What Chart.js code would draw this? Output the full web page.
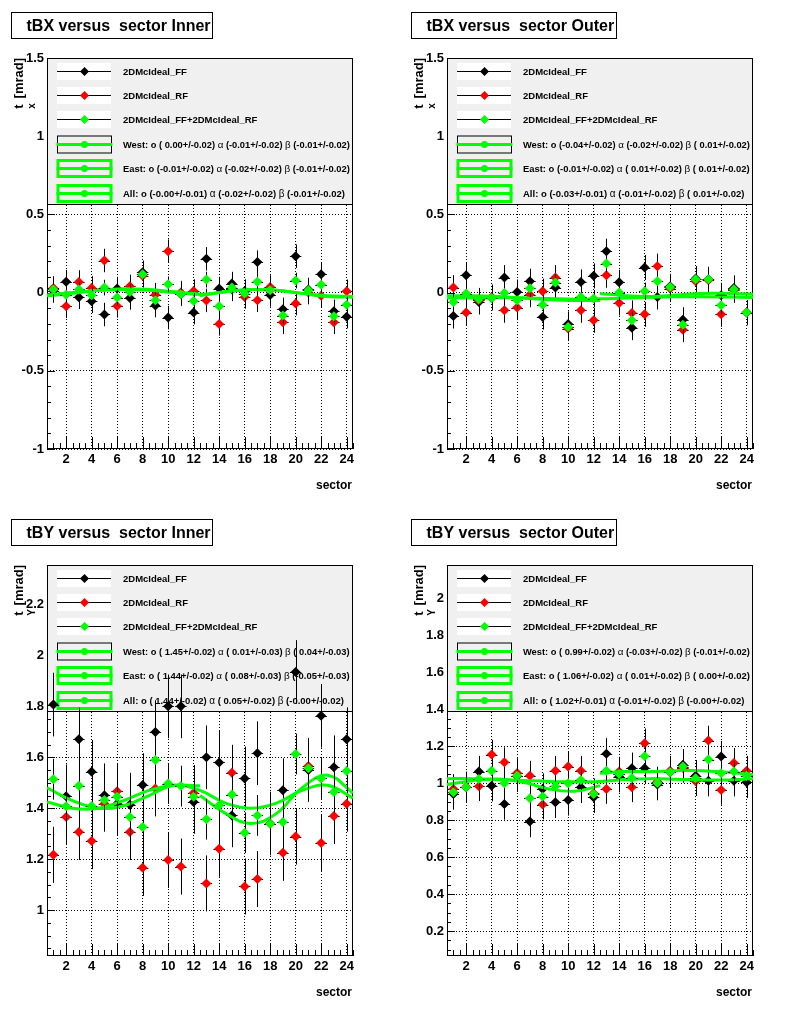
<!DOCTYPE html>
<html>
<head>
<meta charset="utf-8">
<script src="https://cdn.jsdelivr.net/npm/chart.js@4.4.0/dist/chart.umd.min.js"></script>
<style>
html, body { margin: 0; padding: 0; background: #fff; }
#wrap { position: relative; width: 800px; height: 1014px; }
.pad { position: absolute; width: 400px; height: 507px; }
</style>
</head>
<body>
<div id="wrap">
  <div class="pad" style="left:0;top:0"><canvas id="c1" width="400" height="507"></canvas></div>
  <div class="pad" style="left:400px;top:0"><canvas id="c2" width="400" height="507"></canvas></div>
  <div class="pad" style="left:0;top:507px"><canvas id="c3" width="400" height="507"></canvas></div>
  <div class="pad" style="left:400px;top:507px"><canvas id="c4" width="400" height="507"></canvas></div>
</div>
<script>
// sector axis
const sectors = [1, 2, 3, 4, 5, 6, 7, 8, 9, 10, 11, 12, 13, 14, 15, 16, 17, 18, 19, 20, 21, 22, 23, 24];
const xMajor = [2, 4, 6, 8, 10, 12, 14, 16, 18, 20, 22, 24];
const fitXWest = [0.5, 2.5, 4.5, 6.5, 8.5, 10.5, 12.5];
const fitXEast = [12.5, 14.5, 16.5, 18.5, 20.5, 22.5, 24.5];
const fitXAll = [0.5, 2.5, 4.5, 6.5, 8.5, 10.5, 12.5, 14.5, 16.5, 18.5, 20.5, 22.5, 24.5];
const seriesNames = ['2DMcIdeal_FF', '2DMcIdeal_RF', '2DMcIdeal_FF+2DMcIdeal_RF'];
const seriesColors = ['#000000', '#ff0000', '#00ff00'];

// --- tBX Inner ---
const p1FF  = [0.01, 0.07, -0.03, -0.056, -0.14, 0.026, -0.034, 0.13, -0.083, -0.16, -0.01, -0.128, 0.216, 0.026, 0.058, 0.01, 0.195, -0.015, -0.107, 0.233, 0.02, 0.118, -0.12, -0.154];
const p1RF  = [0.03, -0.088, 0.068, 0.03, 0.205, -0.085, 0.04, 0.107, -0.013, 0.265, 0.0, 0.01, -0.05, -0.2, 0.02, -0.028, -0.049, 0.036, -0.19, -0.07, 0.0, -0.02, -0.19, 0.009];
const p1Sum = [0.02, -0.013, 0.02, -0.017, 0.032, -0.032, 0.004, 0.118, -0.049, 0.053, -0.01, -0.053, 0.083, -0.088, 0.032, -0.006, 0.07, 0.015, -0.147, 0.077, 0.015, 0.05, -0.152, -0.077];
const p1Err = [0.075, 0.075, 0.05];
const p1West = [-0.02, -0.005, 0.015, 0.025, 0.02, 0.005, -0.01];
const p1East = [-0.02, 0.005, 0.02, 0.015, -0.005, -0.025, -0.03];
const p1All  = [-0.015, 0.0, 0.015, 0.02, 0.015, 0.0, -0.01, 0.005, 0.02, 0.015, -0.005, -0.02, -0.025];
const p1FitText = [
  'West: o ( 0.00+/-0.02) α (-0.01+/-0.02) β (-0.01+/-0.02)',
  'East: o (-0.01+/-0.02) α (-0.02+/-0.02) β (-0.01+/-0.02)',
  'All: o (-0.00+/-0.01) α (-0.02+/-0.02) β (-0.01+/-0.02)'
];

// --- tBX Outer ---
const p2FF  = [-0.15, 0.111, -0.06, -0.034, 0.096, 0.004, 0.073, -0.156, 0.032, -0.2, 0.068, 0.107, 0.265, 0.066, -0.224, 0.16, -0.028, 0.04, -0.173, 0.09, 0.085, -0.017, 0.03, -0.128];
const p2RF  = [0.032, -0.128, -0.05, -0.028, -0.113, -0.096, -0.013, 0.009, 0.096, -0.23, -0.113, -0.177, 0.111, -0.066, -0.13, -0.139, 0.169, 0.026, -0.237, 0.073, 0.079, -0.139, 0.015, -0.128];
const p2Sum = [-0.06, -0.006, -0.043, -0.034, -0.002, -0.049, 0.028, -0.077, 0.064, -0.22, -0.028, -0.038, 0.186, 0.0, -0.177, 0.009, 0.073, 0.036, -0.205, 0.085, 0.085, -0.081, 0.021, -0.128];
const p2Err = [0.08, 0.08, 0.055];
const p2West = [-0.02, -0.02, -0.025, -0.035, -0.045, -0.05, -0.05];
const p2East = [-0.005, -0.02, -0.025, -0.015, -0.005, -0.005, -0.01];
const p2All  = [-0.035, -0.035, -0.033, -0.034, -0.038, -0.042, -0.04, -0.035, -0.03, -0.027, -0.026, -0.028, -0.032];
const p2FitText = [
  'West: o (-0.04+/-0.02) α (-0.02+/-0.02) β ( 0.01+/-0.02)',
  'East: o (-0.01+/-0.02) α ( 0.01+/-0.02) β ( 0.01+/-0.02)',
  'All: o (-0.03+/-0.01) α (-0.01+/-0.02) β ( 0.01+/-0.02)'
];

// --- tBY Inner ---
const p3FF  = [1.807, 1.447, 1.671, 1.543, 1.451, 1.418, 1.414, 1.491, 1.699, 1.8, 1.8, 1.425, 1.6, 1.58, 1.372, 1.517, 1.616, 1.34, 1.471, 1.935, 1.55, 1.763, 1.561, 1.671];
const p3RF  = [1.217, 1.366, 1.307, 1.271, 1.418, 1.467, 1.307, 1.166, 1.478, 1.197, 1.171, 1.46, 1.105, 1.241, 1.539, 1.093, 1.122, 1.34, 1.225, 1.289, 1.566, 1.264, 1.37, 1.418];
const p3Sum = [1.514, 1.408, 1.488, 1.409, 1.432, 1.445, 1.366, 1.326, 1.589, 1.497, 1.487, 1.445, 1.357, 1.412, 1.454, 1.304, 1.372, 1.339, 1.346, 1.613, 1.557, 1.517, 1.464, 1.546];
const p3Err = [0.125, 0.11, 0.08];
const p3West = [1.425, 1.40, 1.40, 1.43, 1.47, 1.49, 1.488];
const p3East = [1.45, 1.38, 1.34, 1.38, 1.48, 1.53, 1.46];
const p3All  = [1.48, 1.43, 1.40, 1.41, 1.45, 1.49, 1.47, 1.42, 1.40, 1.42, 1.47, 1.49, 1.44];
const p3FitText = [
  'West: o ( 1.45+/-0.02) α ( 0.01+/-0.03) β ( 0.04+/-0.03)',
  'East: o ( 1.44+/-0.02) α ( 0.08+/-0.03) β (-0.05+/-0.03)',
  'All: o ( 1.44+/-0.02) α ( 0.05+/-0.02) β (-0.00+/-0.02)'
];

// --- tBY Outer ---
const p4FF  = [0.942, 0.978, 1.063, 0.987, 0.888, 1.038, 0.793, 0.969, 0.897, 0.91, 0.978, 0.924, 1.159, 1.036, 1.081, 1.081, 0.993, 1.059, 1.1, 1.041, 1.014, 1.144, 1.014, 1.005];
const p4RF  = [0.969, 0.98, 0.984, 1.155, 1.114, 1.056, 1.041, 0.885, 1.068, 1.09, 1.068, 0.946, 0.969, 1.063, 0.978, 1.216, 1.009, 1.068, 1.083, 1.011, 1.231, 0.964, 1.11, 1.068];
const p4Sum = [0.951, 0.978, 1.023, 1.068, 1.0, 1.041, 0.919, 0.928, 0.984, 1.0, 1.018, 0.942, 1.068, 1.05, 1.029, 1.146, 1.002, 1.059, 1.09, 1.027, 1.128, 1.054, 1.063, 1.041];
const p4Err = [0.085, 0.08, 0.055];
const p4West = [0.993, 1.014, 1.023, 1.005, 0.969, 0.957, 0.987];
const p4East = [1.054, 1.063, 1.063, 1.068, 1.068, 1.059, 1.047];
const p4All  = [1.025, 1.025, 1.02, 1.015, 1.01, 1.008, 1.01, 1.02, 1.025, 1.022, 1.018, 1.018, 1.025];
const p4FitText = [
  'West: o ( 0.99+/-0.02) α (-0.03+/-0.02) β (-0.01+/-0.02)',
  'East: o ( 1.06+/-0.02) α ( 0.01+/-0.02) β ( 0.00+/-0.02)',
  'All: o ( 1.02+/-0.01) α (-0.01+/-0.02) β (-0.00+/-0.02)'
];

const yTicksX = [-1, -0.5, 0, 0.5, 1, 1.5];
const yTicksYIn = [1, 1.2, 1.4, 1.6, 1.8, 2, 2.2];
const yTicksYOut = [0.2, 0.4, 0.6, 0.8, 1, 1.2, 1.4, 1.6, 1.8, 2];

const panels = [
  { id: 'c1', title: 'tBX versus  sector Inner', boxW: 201, sub: 'x', yMin: -1, yMax: 1.5, yTicks: yTicksX, yMinor: 0.1,
    series: [p1FF, p1RF, p1Sum], err: p1Err, fits: [p1West, p1East, p1All], fitText: p1FitText },
  { id: 'c2', title: 'tBX versus  sector Outer', boxW: 205, sub: 'x', yMin: -1, yMax: 1.5, yTicks: yTicksX, yMinor: 0.1,
    series: [p2FF, p2RF, p2Sum], err: p2Err, fits: [p2West, p2East, p2All], fitText: p2FitText },
  { id: 'c3', title: 'tBY versus  sector Inner', boxW: 201, sub: 'Y', yMin: 0.82, yMax: 2.355, yTicks: yTicksYIn, yMinor: 0.05,
    series: [p3FF, p3RF, p3Sum], err: p3Err, fits: [p3West, p3East, p3All], fitText: p3FitText },
  { id: 'c4', title: 'tBY versus  sector Outer', boxW: 205, sub: 'Y', yMin: 0.066, yMax: 2.18, yTicks: yTicksYOut, yMinor: 0.05,
    series: [p4FF, p4RF, p4Sum], err: p4Err, fits: [p4West, p4East, p4All], fitText: p4FitText }
];

const BOLD = '"Liberation Sans", Arial, sans-serif';

function diamond(ctx, x, y, r, color) {
  ctx.beginPath();
  ctx.moveTo(x - r, y); ctx.lineTo(x, y - r); ctx.lineTo(x + r, y); ctx.lineTo(x, y + r);
  ctx.closePath();
  ctx.fillStyle = color;
  ctx.fill();
}

function setFont(ctx, part, size) {
  ctx.font = (part === 'α' || part === 'β') ? (size + 0.5) + 'px ' + BOLD : 'bold ' + size + 'px ' + BOLD;
}

// legend text with greek letters in plain weight, shrunk to fit the box
function drawMixed(ctx, str, x, y, maxW) {
  const parts = str.split(/([αβ])/).filter(p => p);
  let size = 9.5;
  let w = 0;
  for (const p of parts) { setFont(ctx, p, size); w += ctx.measureText(p).width; }
  if (w > maxW) size = size * maxW / w;
  for (const p of parts) {
    setFont(ctx, p, size);
    ctx.fillText(p, x, y);
    x += ctx.measureText(p).width;
  }
}

// ROOT-like pad: ticks inside frame, legend box, error bars, titles
const rootPad = {
  id: 'rootPad',
  beforeDatasetsDraw(chart, args, o) {
    const { ctx, chartArea: a, scales: { x, y } } = chart;
    ctx.save();
    ctx.strokeStyle = '#000';
    ctx.lineWidth = 1;
    ctx.setLineDash([]);
    ctx.beginPath();
    for (let k = Math.ceil(x.min / 0.5); k * 0.5 <= x.max + 1e-9; k++) {
      const v = k * 0.5;
      const px = Math.round(x.getPixelForValue(v)) + 0.5;
      const len = xMajor.includes(v) ? 12 : 6;
      ctx.moveTo(px, a.bottom); ctx.lineTo(px, a.bottom - len);
    }
    const st = o.yMinor;
    for (let k = Math.ceil(y.min / st - 1e-9); k * st <= y.max + 1e-9; k++) {
      const v = k * st;
      const py = Math.round(y.getPixelForValue(v)) + 0.5;
      const major = o.yTicks.some(t => Math.abs(t - v) < 1e-6);
      ctx.moveTo(a.left, py); ctx.lineTo(a.left + (major ? 8 : 4), py);
    }
    ctx.stroke();
    ctx.strokeRect(a.left + 0.5, a.top + 0.5, a.right - a.left - 1, a.bottom - a.top - 1);

    // legend
    const lh = 146;
    ctx.fillStyle = '#f0f0f0';
    ctx.fillRect(a.left + 0.5, a.top + 0.5, a.right - a.left - 1, lh);
    ctx.strokeRect(a.left + 0.5, a.top + 0.5, a.right - a.left - 1, lh);
    const sx = a.left + 37.5;
    for (let i = 0; i < 6; i++) {
      const cy = Math.round(a.top + 12.5 + 24.4 * i) + 0.5;
      if (i < 3) {
        ctx.fillStyle = '#fff';
        ctx.fillRect(a.left + 10, cy - 8.5, 54, 17);
        ctx.strokeStyle = '#000'; ctx.lineWidth = 1;
        ctx.beginPath(); ctx.moveTo(a.left + 10, cy); ctx.lineTo(a.left + 64, cy); ctx.stroke();
        diamond(ctx, sx, cy, 4.5, seriesColors[i]);
      } else {
        if (i === 3) {
          ctx.strokeStyle = '#000'; ctx.lineWidth = 1;
          ctx.strokeRect(a.left + 10.5, cy - 8.5, 54, 17);
        } else {
          ctx.strokeStyle = '#00ff00'; ctx.lineWidth = 3;
          ctx.strokeRect(a.left + 11, cy - 8, 53, 16);
        }
        ctx.strokeStyle = '#00ff00'; ctx.lineWidth = 3;
        ctx.beginPath(); ctx.moveTo(a.left + 9.5, cy); ctx.lineTo(a.left + 65.5, cy); ctx.stroke();
        ctx.fillStyle = '#00ff00';
        ctx.beginPath(); ctx.arc(sx, cy, 3.5, 0, Math.PI * 2); ctx.fill();
      }
      ctx.fillStyle = '#000';
      ctx.textBaseline = 'middle';
      ctx.textAlign = 'left';
      drawMixed(ctx, i < 3 ? seriesNames[i] : o.fitText[i - 3], a.left + 76, cy + 0.5, a.right - a.left - 79);
    }
    ctx.restore();
  },
  beforeDatasetDraw(chart, args) {
    const ds = chart.data.datasets[args.index];
    if (ds.errY === undefined) return;
    const { ctx, chartArea: a, scales: { x, y } } = chart;
    ctx.save();
    ctx.beginPath();
    ctx.rect(a.left, a.top, a.right - a.left, a.bottom - a.top);
    ctx.clip();
    ctx.strokeStyle = '#000';
    ctx.lineWidth = 1;
    ctx.beginPath();
    for (const p of ds.data) {
      const px = Math.round(x.getPixelForValue(p.x)) + 0.5;
      const py = Math.round(y.getPixelForValue(p.y)) + 0.5;
      ctx.moveTo(px, y.getPixelForValue(p.y + ds.errY));
      ctx.lineTo(px, y.getPixelForValue(p.y - ds.errY));
      ctx.moveTo(x.getPixelForValue(p.x - ds.errX), py);
      ctx.lineTo(x.getPixelForValue(p.x + ds.errX), py);
    }
    ctx.stroke();
    ctx.restore();
  },
  afterDraw(chart, args, o) {
    const { ctx, chartArea: a } = chart;
    ctx.save();
    // title box
    ctx.fillStyle = '#fff';
    ctx.fillRect(11.5, 12.5, o.boxW, 26);
    ctx.strokeStyle = '#000'; ctx.lineWidth = 1;
    ctx.strokeRect(11.5, 12.5, o.boxW, 26);
    ctx.fillStyle = '#000';
    ctx.font = 'bold 16px ' + BOLD;
    ctx.textAlign = 'left'; ctx.textBaseline = 'alphabetic';
    ctx.fillText(o.title, 26.5, 31);
    // x title
    ctx.font = 'bold 12px ' + BOLD;
    ctx.textAlign = 'right'; ctx.textBaseline = 'middle';
    ctx.fillText('sector', a.right - 1, 486);
    // y title (rotated)
    ctx.translate(23, a.top);
    ctx.rotate(-Math.PI / 2);
    ctx.textAlign = 'left'; ctx.textBaseline = 'alphabetic';
    ctx.font = 'bold 13px ' + BOLD;
    const wm = ctx.measureText('[mrad]').width;
    const wt = ctx.measureText('t').width;
    ctx.fillText('[mrad]', -wm, 0);
    ctx.fillText('t', -wm - 6 - wt, 0);
    ctx.font = 'bold 10px ' + BOLD;
    ctx.fillText(o.sub, -wm - 6 - wt, 12);
    ctx.restore();
  }
};

panels.forEach(pn => {
  const datasets = [];
  const fitXs = [fitXWest, fitXEast, fitXAll];
  // green points on top, then fits, red, black
  const order = [3, 2, 0];
  pn.series.forEach((vals, i) => {
    datasets.push({
      label: seriesNames[i],
      data: sectors.map((s, k) => ({ x: s, y: vals[k] })),
      errY: pn.err[i],
      errX: 0.45,
      showLine: false,
      pointStyle: 'rectRot',
      pointRadius: 5,
      pointHoverRadius: 5,
      pointBorderWidth: 0,
      pointBackgroundColor: seriesColors[i],
      pointBorderColor: seriesColors[i],
      order: order[i]
    });
  });
  pn.fits.forEach((vals, i) => {
    datasets.push({
      label: 'fit' + i,
      data: fitXs[i].map((s, k) => ({ x: s, y: vals[k] })),
      showLine: true,
      borderColor: '#00ff00',
      borderWidth: 3,
      pointRadius: 0,
      tension: 0.4,
      fill: false,
      order: 1
    });
  });

  new Chart(document.getElementById(pn.id), {
    type: 'scatter',
    data: { datasets },
    plugins: [rootPad],
    options: {
      responsive: false,
      animation: false,
      devicePixelRatio: 1,
      events: [],
      layout: { padding: { left: 0, top: 58, right: 47, bottom: 0 } },
      scales: {
        x: {
          type: 'linear', min: 0.5, max: 24.5,
          afterBuildTicks: s => { s.ticks = xMajor.map(v => ({ value: v })); },
          afterFit: s => { s.height = 58; },
          grid: { color: '#000', lineWidth: 1, drawTicks: false },
          border: { display: false, dash: [1, 2] },
          ticks: { color: '#000', padding: 3, maxRotation: 0, autoSkip: false,
                   font: { family: BOLD, size: 13, weight: 'bold' } }
        },
        y: {
          type: 'linear', min: pn.yMin, max: pn.yMax,
          afterBuildTicks: s => { s.ticks = pn.yTicks.map(v => ({ value: v })); },
          afterFit: s => { s.width = 47; },
          grid: { color: '#000', lineWidth: 1, drawTicks: false },
          border: { display: false, dash: [1, 2] },
          ticks: { color: '#000', padding: 3, autoSkip: false, callback: v => String(v),
                   font: { family: BOLD, size: 13, weight: 'bold' } }
        }
      },
      plugins: {
        legend: { display: false },
        tooltip: { enabled: false },
        rootPad: { title: pn.title, boxW: pn.boxW, sub: pn.sub, yTicks: pn.yTicks, yMinor: pn.yMinor, fitText: pn.fitText }
      }
    }
  });
});
</script>
</body>
</html>
